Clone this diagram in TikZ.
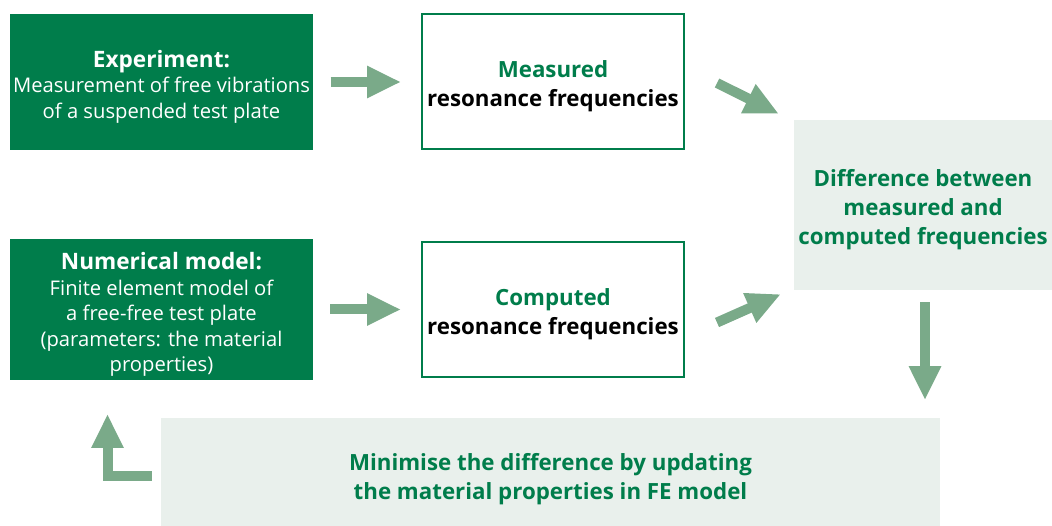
\documentclass[tikz,border=0pt]{standalone}
\usepackage{fontspec}
\setmainfont{Open Sans}
\usetikzlibrary{arrows.meta}
\definecolor{darkgreen}{RGB}{0,125,75}
\definecolor{arrowgreen}{RGB}{122,170,137}
\definecolor{palegreen}{RGB}{233,240,236}
\begin{document}
\begin{tikzpicture}[x=1pt,y=-1pt,
  dark box/.style={rectangle,fill=darkgreen,text=white,align=center,minimum width=303pt,minimum height=136pt,font=\fontsize{20.2}{25.5}\selectfont},
  white box/.style={rectangle,draw=darkgreen,line width=2pt,fill=white,align=center,minimum width=262pt,minimum height=135pt,font=\fontsize{22.3}{29}\selectfont\bfseries,text height=56pt},
  pale box/.style={rectangle,fill=palegreen,text=darkgreen,align=center,font=\fontsize{22.3}{29}\selectfont\bfseries},
  big arrow/.style={draw=arrowgreen,line width=10pt,-{Triangle[length=34pt,width=30pt]}}]

  \useasboundingbox (0,0) rectangle (1052,526);

  \node[dark box,text height=77pt] (exp) at (161.5,82) {{\fontsize{22.6}{25.5}\selectfont\bfseries Experiment:}\\Measurement of free vibrations\\of a suspended test plate};
  \node[white box] (meas) at (553,81.5) {\textcolor{darkgreen}{Measured}\\resonance frequencies};
  \node[dark box,minimum height=137pt,text height=129pt] (num) at (161.5,309.5) {{\fontsize{22.6}{25.5}\selectfont\bfseries Numerical model:}\\Finite element model of\\a free-free test plate\\(parameters: the material\\properties)};
  \node[white box] (comp) at (553,309.5) {\textcolor{darkgreen}{Computed}\\resonance frequencies};
  \node[pale box,minimum width=258pt,minimum height=170pt,text height=85pt] (diff) at (923,205) {Difference between\\measured and\\computed frequencies};
  \node[pale box,minimum width=779pt,minimum height=108pt,text height=60pt] (mini) at (550.5,472) {Minimise the difference by updating\\the material properties in FE model};

  \draw[big arrow,shorten <=17pt,shorten >=20pt] (exp.east) -- (meas.west |- exp.east);
  \draw[big arrow,shorten <=17pt,shorten >=20pt] (num.east) -- (comp.west |- num.east);
  \draw[big arrow] ([xshift=32pt,yshift=-1.5pt]meas.east) -- ([xshift=-15pt,yshift=6pt]diff.north west);
  \draw[big arrow] ([xshift=32pt,yshift=-13pt]comp.east) -- ([xshift=-13pt,yshift=-4pt]diff.south west);
  \draw[big arrow] ([xshift=2pt,yshift=-12pt]diff.south) -- ([xshift=2pt,yshift=-110pt]diff.south);
  \draw[big arrow,shorten <=9pt] ([yshift=-4pt]mini.west) -| ([xshift=-54pt,yshift=-34pt]num.south);
\end{tikzpicture}
\end{document}
